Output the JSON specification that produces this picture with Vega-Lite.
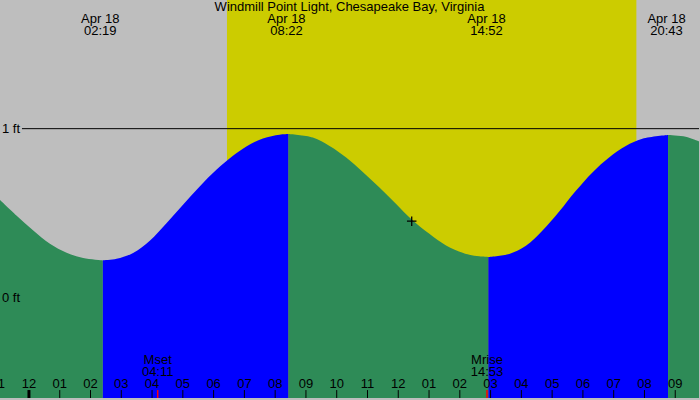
{
  "$schema": "https://vega.github.io/schema/vega-lite/v6.json",
  "width": 700,
  "height": 400,
  "padding": 0,
  "autosize": {"type": "fit", "contains": "padding"},
  "background": "#BEBEBE",
  "config": {"view": {"stroke": null, "fill": "#BEBEBE"}, "text": {"font": "Liberation Sans", "fontSize": 13, "color": "#000000"}},
  "datasets": {
    "tide": [
      {"h": -0.941, "ft": 0.578, "seg": "f1", "dir": "falling"},
      {"h": -0.399, "ft": 0.485, "seg": "f1", "dir": "falling"},
      {"h": 0.140, "ft": 0.397, "seg": "f1", "dir": "falling"},
      {"h": 0.681, "ft": 0.318, "seg": "f1", "dir": "falling"},
      {"h": 1.223, "ft": 0.265, "seg": "f1", "dir": "falling"},
      {"h": 1.762, "ft": 0.234, "seg": "f1", "dir": "falling"},
      {"h": 2.401, "ft": 0.220, "seg": "f1", "dir": "falling"},
      {"h": 2.401, "ft": 0.220, "seg": "r1", "dir": "rising"},
      {"h": 2.846, "ft": 0.229, "seg": "r1", "dir": "rising"},
      {"h": 3.384, "ft": 0.264, "seg": "r1", "dir": "rising"},
      {"h": 3.926, "ft": 0.336, "seg": "r1", "dir": "rising"},
      {"h": 4.468, "ft": 0.440, "seg": "r1", "dir": "rising"},
      {"h": 5.006, "ft": 0.550, "seg": "r1", "dir": "rising"},
      {"h": 5.548, "ft": 0.658, "seg": "r1", "dir": "rising"},
      {"h": 6.090, "ft": 0.756, "seg": "r1", "dir": "rising"},
      {"h": 6.629, "ft": 0.839, "seg": "r1", "dir": "rising"},
      {"h": 7.064, "ft": 0.895, "seg": "r1", "dir": "rising"},
      {"h": 7.602, "ft": 0.942, "seg": "r1", "dir": "rising"},
      {"h": 8.144, "ft": 0.964, "seg": "r1", "dir": "rising"},
      {"h": 8.436, "ft": 0.968, "seg": "r1", "dir": "rising"},
      {"h": 8.436, "ft": 0.968, "seg": "f2", "dir": "falling"},
      {"h": 9.225, "ft": 0.947, "seg": "f2", "dir": "falling"},
      {"h": 9.767, "ft": 0.897, "seg": "f2", "dir": "falling"},
      {"h": 10.308, "ft": 0.829, "seg": "f2", "dir": "falling"},
      {"h": 10.847, "ft": 0.744, "seg": "f2", "dir": "falling"},
      {"h": 11.389, "ft": 0.652, "seg": "f2", "dir": "falling"},
      {"h": 11.931, "ft": 0.554, "seg": "f2", "dir": "falling"},
      {"h": 12.437, "ft": 0.462, "seg": "f2", "dir": "falling"},
      {"h": 13.011, "ft": 0.377, "seg": "f2", "dir": "falling"},
      {"h": 13.553, "ft": 0.308, "seg": "f2", "dir": "falling"},
      {"h": 14.092, "ft": 0.265, "seg": "f2", "dir": "falling"},
      {"h": 14.309, "ft": 0.253, "seg": "f2", "dir": "falling"},
      {"h": 14.634, "ft": 0.244, "seg": "f2", "dir": "falling"},
      {"h": 14.925, "ft": 0.240, "seg": "f2", "dir": "falling"},
      {"h": 14.925, "ft": 0.240, "seg": "r2", "dir": "rising"},
      {"h": 15.607, "ft": 0.258, "seg": "r2", "dir": "rising"},
      {"h": 16.149, "ft": 0.306, "seg": "r2", "dir": "rising"},
      {"h": 16.687, "ft": 0.397, "seg": "r2", "dir": "rising"},
      {"h": 17.229, "ft": 0.509, "seg": "r2", "dir": "rising"},
      {"h": 17.771, "ft": 0.632, "seg": "r2", "dir": "rising"},
      {"h": 18.310, "ft": 0.741, "seg": "r2", "dir": "rising"},
      {"h": 18.851, "ft": 0.829, "seg": "r2", "dir": "rising"},
      {"h": 19.393, "ft": 0.897, "seg": "r2", "dir": "rising"},
      {"h": 19.932, "ft": 0.940, "seg": "r2", "dir": "rising"},
      {"h": 20.766, "ft": 0.962, "seg": "r2", "dir": "rising"},
      {"h": 20.766, "ft": 0.962, "seg": "f3", "dir": "falling"},
      {"h": 21.340, "ft": 0.952, "seg": "f3", "dir": "falling"},
      {"h": 21.772, "ft": 0.925, "seg": "f3", "dir": "falling"}
    ],
    "extremes": [
      {"h": 2.317, "date": "Apr 18", "time": "02:19"},
      {"h": 8.367, "date": "Apr 18", "time": "08:22"},
      {"h": 14.867, "date": "Apr 18", "time": "14:52"},
      {"h": 20.717, "date": "Apr 18", "time": "20:43"}
    ],
    "hours": [
      {"h": -1, "label": "11"}, {"h": 0, "label": "12"}, {"h": 1, "label": "01"}, {"h": 2, "label": "02"},
      {"h": 3, "label": "03"}, {"h": 4, "label": "04"}, {"h": 5, "label": "05"}, {"h": 6, "label": "06"},
      {"h": 7, "label": "07"}, {"h": 8, "label": "08"}, {"h": 9, "label": "09"}, {"h": 10, "label": "10"},
      {"h": 11, "label": "11"}, {"h": 12, "label": "12"}, {"h": 13, "label": "01"}, {"h": 14, "label": "02"},
      {"h": 15, "label": "03"}, {"h": 16, "label": "04"}, {"h": 17, "label": "05"}, {"h": 18, "label": "06"},
      {"h": 19, "label": "07"}, {"h": 20, "label": "08"}, {"h": 21, "label": "09"}
    ],
    "moon": [
      {"h": 4.183, "name": "Mset", "time": "04:11"},
      {"h": 14.883, "name": "Mrise", "time": "14:53"}
    ],
    "levels": [
      {"ft": 0, "label": "0 ft"},
      {"ft": 1, "label": "1 ft"}
    ]
  },
  "layer": [
    {
      "data": {"values": [{"start": 6.434, "end": 19.737}]},
      "mark": {"type": "rect", "color": "#CCCC00"},
      "encoding": {
        "x": {"field": "start", "type": "quantitative", "scale": {"domain": [-0.941, 21.772], "nice": false, "zero": false}, "axis": null},
        "x2": {"field": "end"}
      }
    },
    {
      "data": {"name": "tide"},
      "mark": {"type": "area", "interpolate": "catmull-rom", "clip": true},
      "encoding": {
        "x": {"field": "h", "type": "quantitative", "scale": {"domain": [-0.941, 21.772], "nice": false, "zero": false}, "axis": null},
        "y": {"field": "ft", "type": "quantitative", "scale": {"domain": [-0.595, 1.762], "nice": false, "zero": false}, "axis": null},
        "y2": {"datum": -0.595},
        "color": {"field": "dir", "type": "nominal", "scale": {"domain": ["falling", "rising"], "range": ["#2E8B57", "#0000FF"]}, "legend": null},
        "detail": {"field": "seg"}
      }
    },
    {
      "data": {"values": [{}]},
      "mark": {"type": "rule", "color": "#000000", "strokeWidth": 1},
      "encoding": {
        "x": {"datum": -0.227, "scale": {"domain": [-0.941, 21.772], "nice": false, "zero": false}, "axis": null},
        "x2": {"datum": 21.772},
        "y": {"datum": 1, "scale": {"domain": [-0.595, 1.762], "nice": false, "zero": false}, "axis": null}
      }
    },
    {
      "data": {"name": "levels"},
      "mark": {"type": "text", "align": "left", "baseline": "middle", "dx": 2},
      "encoding": {
        "x": {"datum": -0.941, "scale": {"domain": [-0.941, 21.772], "nice": false, "zero": false}, "axis": null},
        "y": {"field": "ft", "type": "quantitative", "scale": {"domain": [-0.595, 1.762], "nice": false, "zero": false}, "axis": null},
        "text": {"field": "label"}
      }
    },
    {
      "data": {"name": "hours"},
      "mark": {"type": "rule", "color": "#000000", "strokeWidth": 1, "clip": true},
      "encoding": {
        "x": {"field": "h", "type": "quantitative", "scale": {"domain": [-0.941, 21.772], "nice": false, "zero": false}, "axis": null},
        "y": {"datum": -0.548, "scale": {"domain": [-0.595, 1.762], "nice": false, "zero": false}, "axis": null},
        "y2": {"datum": -0.595}
      }
    },
    {
      "data": {"values": [{}]},
      "mark": {"type": "rule", "color": "#000000", "strokeWidth": 3},
      "encoding": {
        "x": {"datum": 0, "scale": {"domain": [-0.941, 21.772], "nice": false, "zero": false}, "axis": null},
        "y": {"datum": -0.548, "scale": {"domain": [-0.595, 1.762], "nice": false, "zero": false}, "axis": null},
        "y2": {"datum": -0.595}
      }
    },
    {
      "data": {"name": "moon"},
      "mark": {"type": "rule", "color": "#FF0000", "strokeWidth": 1.5},
      "encoding": {
        "x": {"field": "h", "type": "quantitative", "scale": {"domain": [-0.941, 21.772], "nice": false, "zero": false}, "axis": null},
        "y": {"datum": -0.548, "scale": {"domain": [-0.595, 1.762], "nice": false, "zero": false}, "axis": null},
        "y2": {"datum": -0.595}
      }
    },
    {
      "data": {"name": "hours"},
      "mark": {"type": "text", "align": "center", "baseline": "alphabetic", "clip": true},
      "encoding": {
        "x": {"field": "h", "type": "quantitative", "scale": {"domain": [-0.941, 21.772], "nice": false, "zero": false}, "axis": null},
        "y": {"datum": -0.536, "scale": {"domain": [-0.595, 1.762], "nice": false, "zero": false}, "axis": null},
        "text": {"field": "label"}
      }
    },
    {
      "data": {"name": "moon"},
      "mark": {"type": "text", "align": "center", "baseline": "alphabetic"},
      "encoding": {
        "x": {"field": "h", "type": "quantitative", "scale": {"domain": [-0.941, 21.772], "nice": false, "zero": false}, "axis": null},
        "y": {"datum": -0.393, "scale": {"domain": [-0.595, 1.762], "nice": false, "zero": false}, "axis": null},
        "text": {"field": "name"}
      }
    },
    {
      "data": {"name": "moon"},
      "mark": {"type": "text", "align": "center", "baseline": "alphabetic"},
      "encoding": {
        "x": {"field": "h", "type": "quantitative", "scale": {"domain": [-0.941, 21.772], "nice": false, "zero": false}, "axis": null},
        "y": {"datum": -0.4655, "scale": {"domain": [-0.595, 1.762], "nice": false, "zero": false}, "axis": null},
        "text": {"field": "time"}
      }
    },
    {
      "data": {"name": "extremes"},
      "mark": {"type": "text", "align": "center", "baseline": "alphabetic"},
      "encoding": {
        "x": {"field": "h", "type": "quantitative", "scale": {"domain": [-0.941, 21.772], "nice": false, "zero": false}, "axis": null},
        "y": {"datum": 1.626, "scale": {"domain": [-0.595, 1.762], "nice": false, "zero": false}, "axis": null},
        "text": {"field": "date"}
      }
    },
    {
      "data": {"name": "extremes"},
      "mark": {"type": "text", "align": "center", "baseline": "alphabetic"},
      "encoding": {
        "x": {"field": "h", "type": "quantitative", "scale": {"domain": [-0.941, 21.772], "nice": false, "zero": false}, "axis": null},
        "y": {"datum": 1.553, "scale": {"domain": [-0.595, 1.762], "nice": false, "zero": false}, "axis": null},
        "text": {"field": "time"}
      }
    },
    {
      "data": {"values": [{"title": "Windmill Point Light, Chesapeake Bay, Virginia"}]},
      "mark": {"type": "text", "align": "center", "baseline": "alphabetic"},
      "encoding": {
        "x": {"datum": 10.4155, "scale": {"domain": [-0.941, 21.772], "nice": false, "zero": false}, "axis": null},
        "y": {"datum": 1.695, "scale": {"domain": [-0.595, 1.762], "nice": false, "zero": false}, "axis": null},
        "text": {"field": "title"}
      }
    },
    {
      "data": {"values": [{"h": 12.437, "ft": 0.452}]},
      "mark": {"type": "point", "shape": "M-1,0L1,0M0,-1L0,1", "size": 90, "stroke": "#000000", "strokeWidth": 1.3, "filled": false, "opacity": 1},
      "encoding": {
        "x": {"field": "h", "type": "quantitative", "scale": {"domain": [-0.941, 21.772], "nice": false, "zero": false}, "axis": null},
        "y": {"field": "ft", "type": "quantitative", "scale": {"domain": [-0.595, 1.762], "nice": false, "zero": false}, "axis": null}
      }
    }
  ]
}
